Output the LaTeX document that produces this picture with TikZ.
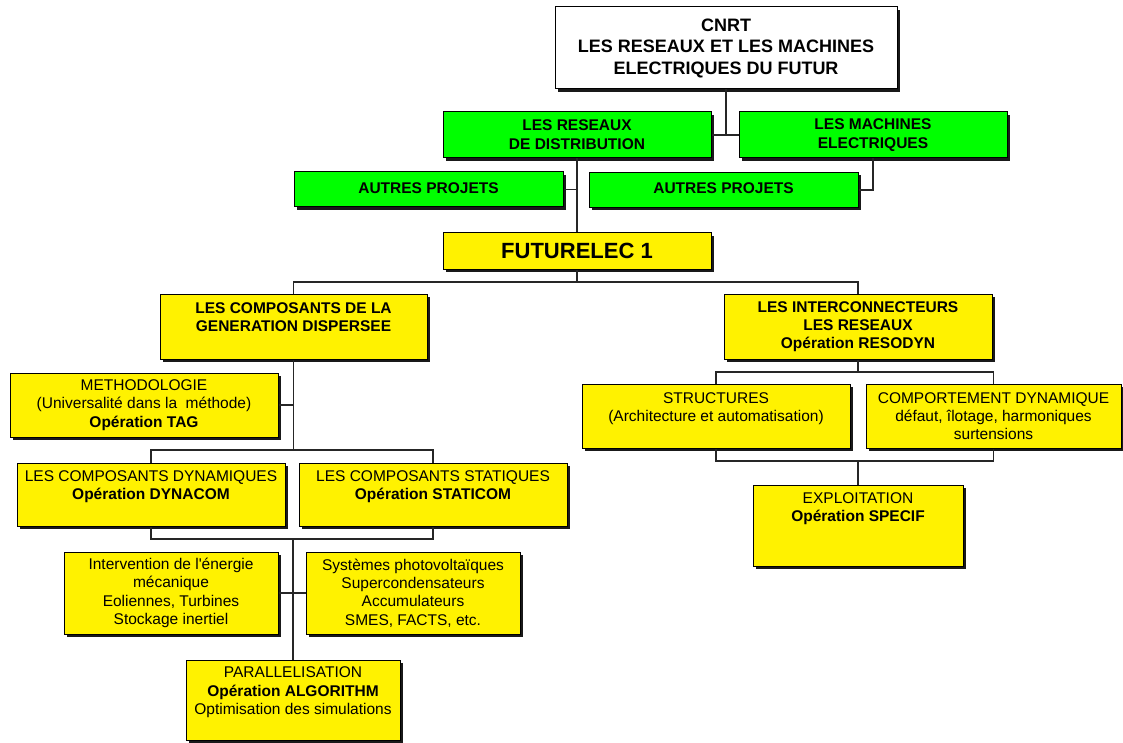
\documentclass[tikz,border=0pt]{standalone}
\usepackage{fontspec}
\setmainfont{Liberation Sans}
\usetikzlibrary{shadows}
\begin{document}
\begin{tikzpicture}[x=1pt,y=-1pt,
  base/.style={draw=black, line width=1pt, align=center, inner sep=2pt,
    font=\fontsize{15.5}{18.3}\selectfont,
    drop shadow={shadow xshift=3pt, shadow yshift=-3pt, fill=black, opacity=0.9}},
  ybox/.style={base, fill=yellow},
  gbox/.style={base, fill=green, font=\fontsize{15.5}{19}\selectfont\bfseries},
  wbox/.style={base, fill=white, font=\fontsize{18}{21.5}\selectfont\bfseries},
  conn/.style={draw=black!85, line width=1.1pt}]
\fill[white] (0,0) rectangle (1123,743);
\useasboundingbox (0,0) rectangle (1123,743);

% top levels
\node[wbox, minimum width=342pt, minimum height=82pt] (cnrt) at (726,48)
  {CNRT\\LES RESEAUX ET LES MACHINES\\ELECTRIQUES DU FUTUR};
\node[gbox, minimum width=268pt, minimum height=46pt] (res) at (577,135)
  {LES RESEAUX\\DE DISTRIBUTION};
\node[gbox, minimum width=268pt, minimum height=46pt] (mach) at (873,135)
  {LES MACHINES\\ELECTRIQUES};
\node[gbox, minimum width=269pt, minimum height=35pt] (aut1) at (428.5,189.5)
  {\raisebox{3pt}{AUTRES PROJETS}};
\node[gbox, minimum width=269pt, minimum height=35pt] (aut2) at (723.5,190)
  {\raisebox{3pt}{AUTRES PROJETS}};
\node[ybox, minimum width=268pt, minimum height=36pt, font=\fontsize{22}{26}\selectfont\bfseries] (fut) at (577,251)
  {FUTURELEC 1};

% second level
\node[ybox, minimum width=267pt, minimum height=65pt, font=\fontsize{15.5}{18.3}\selectfont\bfseries] (gen) at (293.5,326.5)
  {LES COMPOSANTS DE LA\\GENERATION DISPERSEE\\~};
\node[ybox, minimum width=268pt, minimum height=65pt, font=\fontsize{15.5}{18.3}\selectfont\bfseries] (inter) at (858,326.5)
  {LES INTERCONNECTEURS\\LES RESEAUX\\Opération RESODYN};

% left branch
\node[ybox, minimum width=268pt, minimum height=64pt] (meth) at (144,405)
  {METHODOLOGIE\\(Universalité dans la\ \ méthode)\\\textbf{Opération TAG}};
\node[ybox, minimum width=268pt, minimum height=63pt] (dyn) at (151,494.5)
  {LES COMPOSANTS DYNAMIQUES\\\textbf{Opération DYNACOM}\\~};
\node[ybox, minimum width=268pt, minimum height=63pt] (stat) at (433,494.5)
  {LES COMPOSANTS STATIQUES\\\textbf{Opération STATICOM}\\~};
\node[ybox, minimum width=214pt, minimum height=82pt] (interv) at (171,593)
  {Intervention de l\textquotesingle énergie\\mécanique\\Eoliennes, Turbines\\Stockage inertiel};
\node[ybox, minimum width=214pt, minimum height=82pt] (syst) at (413,593)
  {Systèmes photovoltaïques\\Supercondensateurs\\Accumulateurs\\SMES, FACTS, etc.};
\node[ybox, minimum width=214pt, minimum height=80pt] (par) at (293,700)
  {PARALLELISATION\\\textbf{Opération ALGORITHM}\\Optimisation des simulations\\~};

% right branch
\node[ybox, minimum width=268pt, minimum height=64pt] (struc) at (716,416)
  {STRUCTURES\\(Architecture et automatisation)\\~};
\node[ybox, minimum width=255pt, minimum height=64pt] (comp) at (993.5,416)
  {COMPORTEMENT DYNAMIQUE\\défaut, îlotage, harmoniques\\surtensions};
\node[ybox, minimum width=210pt, minimum height=81pt] (expl) at (858,525.5)
  {EXPLOITATION\\\textbf{Opération SPECIF}\\~\\~};

% bus levels
\coordinate (busA) at (0,282);
\coordinate (busB) at (0,450);
\coordinate (busC) at (0,539);
\coordinate (busD) at (0,372);
\coordinate (busE) at (0,461);

% connectors
\draw[conn] (cnrt.south) -- (cnrt.south |- res.east);
\draw[conn] (res.east) -- (mach.west);
\draw[conn] (res.south) -- (fut.north);
\draw[conn] (aut1.east) -- (res.south |- aut1.east);
\draw[conn] (mach.south) -- (mach.south |- aut2.east) -- (aut2.east);
\draw[conn] (fut.south) -- (fut.south |- busA);
\draw[conn] (gen.north) -- (gen.north |- busA) -- (inter.north |- busA) -- (inter.north);
\draw[conn] (gen.south) -- (gen.south |- busB);
\draw[conn] (meth.east) -- (gen.south |- meth.east);
\draw[conn] (dyn.north) -- (dyn.north |- busB) -- (stat.north |- busB) -- (stat.north);
\draw[conn] (dyn.south) -- (dyn.south |- busC) -- (stat.south |- busC) -- (stat.south);
\draw[conn] (par.north |- busC) -- (par.north);
\draw[conn] (interv.east) -- (syst.west);
\draw[conn] (inter.south) -- (inter.south |- busD);
\draw[conn] (struc.north) -- (struc.north |- busD) -- (comp.north |- busD) -- (comp.north);
\draw[conn] (struc.south) -- (struc.south |- busE) -- (comp.south |- busE) -- (comp.south);
\draw[conn] (expl.north |- busE) -- (expl.north);
\end{tikzpicture}
\end{document}
